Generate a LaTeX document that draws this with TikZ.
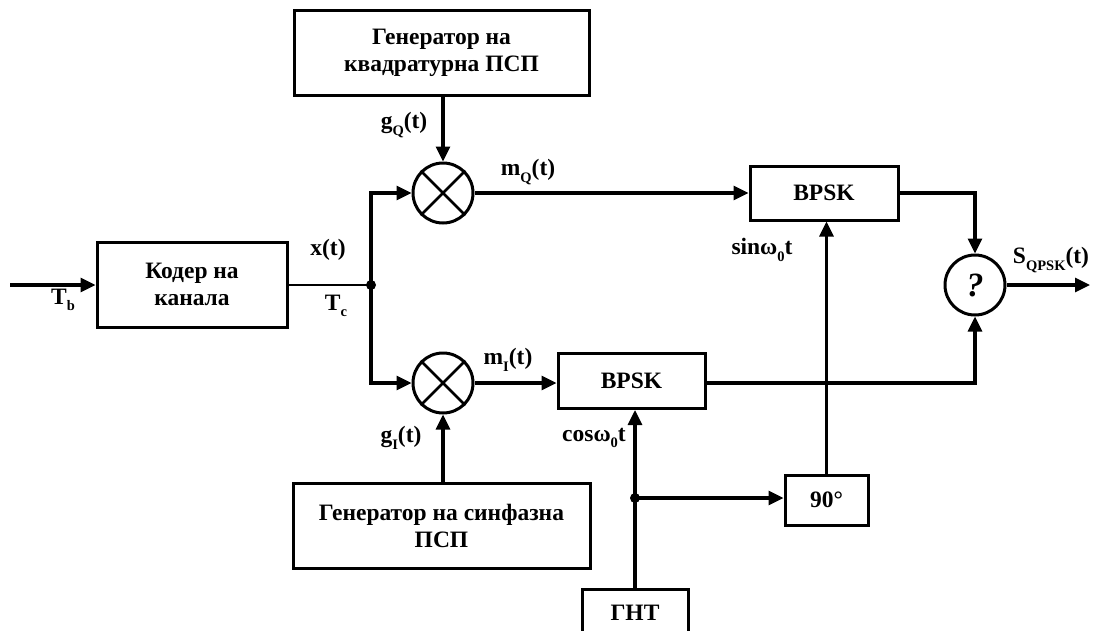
\documentclass[tikz,border=0pt]{standalone}
\usepackage{fontspec}
\setmainfont{Liberation Serif}
\usetikzlibrary{arrows.meta,calc}
\newcommand\lsub[1]{\raisebox{-0.28em}{\fontsize{14.5}{14.5}\selectfont #1}}
\tikzset{
  blk/.style={draw, line width=3pt, minimum width=#1, inner sep=0pt, align=center},
  mul/.style={draw, circle, line width=3pt, minimum size=60pt, inner sep=0pt},
  arr/.style={line width=3.2pt, -{Triangle[length=15pt,width=14pt]}},
  wire/.style={line width=3.2pt},
  thin wire/.style={line width=1.6pt},
  lbl/.style={inner sep=0pt},
  every node/.style={font=\fontsize{23.5}{27}\selectfont\bfseries}
}
\begin{document}
\begin{tikzpicture}[x=1pt,y=-1pt]
\useasboundingbox (0,0) rectangle (1093,630);
% blocks
\node[blk=190pt, minimum height=85pt] (kod) at (192,284.5) {Кодер на\\канала};
\node[blk=295pt, minimum height=85pt] (genq) at (441.5,52.5) {Генератор на\\квадратурна ПСП};
\node[blk=297pt, minimum height=85pt] (geni) at (441.5,525.5) {Генератор на синфазна\\ПСП};
\node[blk=148pt, minimum height=54pt] (bq) at (824,193) {BPSK};
\node[blk=147pt, minimum height=55pt] (bi) at (631.5,381) {BPSK};
\node[blk=83pt, minimum height=50pt] (ph) at (826.5,500) {90°};
\node[blk=106pt, minimum height=48pt] (ght) at (635,613) {ГНТ};
\node[mul] (mq) at (443,193) {};
\node[mul] (mi) at (443,383) {};
\node[mul, font=\fontsize{34}{34}\selectfont\bfseries\itshape] (sum) at (975,285) {?};
\draw[line width=2.6pt] (mq.north west) -- (mq.south east) (mq.north east) -- (mq.south west);
\draw[line width=2.6pt] (mi.north west) -- (mi.south east) (mi.north east) -- (mi.south west);
% coordinates
\coordinate (in) at (10,285);
\coordinate (sp) at (371,285);
\coordinate (split) at (ght.north |- 0,498);
\coordinate (out) at (1090,285);
% connectors
\draw[arr] (in) -- (kod.west |- in);
\draw[thin wire] (kod.east |- sp) -- (sp);
\fill (sp) circle (5pt);
\draw[arr] (sp) |- (mq.west);
\draw[arr] (sp) |- (mi.west);
\draw[arr] (genq.south -| mq.north) -- (mq.north);
\draw[arr] (geni.north -| mi.south) -- (mi.south);
\draw[arr] (mq.east) -- (mq.east -| bq.west);
\draw[arr] (mi.east) -- (mi.east -| bi.west);
\draw[arr] (bq.east) -| (sum.north);
\draw[arr] (bi.east |- mi.east) -| (sum.south);
\draw[arr] (sum.east) -- (out);
\draw[arr] (ght.north) -- (ght.north |- bi.south);
\fill (split) circle (5pt);
\draw[arr] (split) -- (split -| ph.west);
\draw[arr] (ph.north) -- (ph.north |- bq.south);
% labels
\node[lbl] (tb) at (63,300) {T\lsub{b}};
\node[lbl] (xt) at (328,250) {x(t)};
\node[lbl] (tc) at (336,306) {T\lsub{c}};
\node[lbl] (gq) at (404,125) {g\lsub{Q}(t)};
\node[lbl] (mqt) at (528,172) {m\lsub{Q}(t)};
\node[lbl] (mit) at (508,360) {m\lsub{I}(t)};
\node[lbl] (gi) at (401,438) {g\lsub{I}(t)};
\node[lbl] (cw) at (594,438) {cosω\lsub{0}t};
\node[lbl] (sw) at (762,250) {sinω\lsub{0}t};
\node[lbl] (sq) at (1051,260) {S\lsub{QPSK}(t)};
\end{tikzpicture}
\end{document}
